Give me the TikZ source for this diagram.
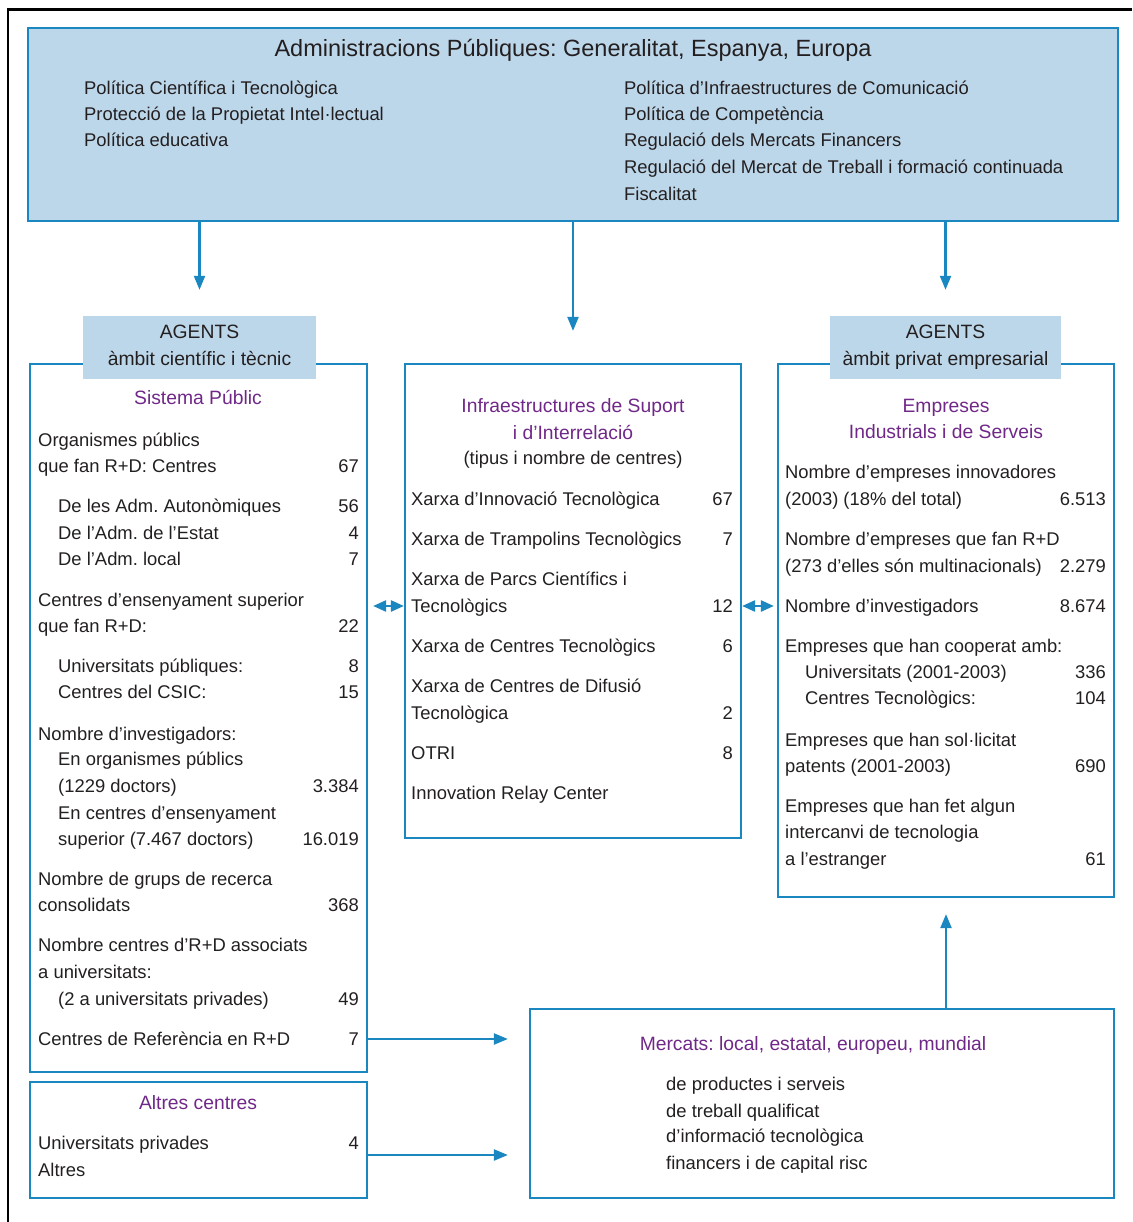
\documentclass[tikz,border=0pt]{standalone}
\usepackage{fontspec}
\setmainfont{Liberation Sans}
\usetikzlibrary{arrows.meta, positioning, calc}
\definecolor{linkblue}{RGB}{27,135,192}
\definecolor{paleblue}{RGB}{189,215,234}
\definecolor{headpurple}{RGB}{112,40,136}
\definecolor{inkgray}{RGB}{35,31,32}
\frenchspacing

\begin{document}
\begin{tikzpicture}[x=1pt, y=-1pt,
    panel/.style={rectangle, draw=linkblue, line width=2.2pt, inner sep=0pt},
    tag/.style={rectangle, fill=paleblue, inner sep=0pt},
    item/.style={anchor=base west, inner sep=0pt, text=inkgray,
                 font=\fontsize{18.4pt}{22pt}\selectfont},
    count/.style={item, anchor=base east},
    head/.style={anchor=base, inner sep=0pt, text=headpurple,
                 font=\fontsize{19.3pt}{23pt}\selectfont},
    arrow/.style={-{Triangle[length=14pt, width=11pt]}, line width=2.2pt, draw=linkblue},
    twoway/.style={{Triangle[length=13pt, width=11pt]}-{Triangle[length=13pt, width=11pt]},
                   line width=2.4pt, draw=linkblue},
]
\useasboundingbox (0,0) rectangle (1132,1222);
% marc
\draw[line width=2.7pt] (8,1222) -- (8,9.5) -- (1132,9.5);

% caixes
\node[panel, fill=paleblue, minimum width=1090pt, minimum height=193pt] (admin) at (573,124.5) {};
\node[panel, minimum width=337pt, minimum height=708pt] (pub) at (198.5,718) {};
\node[panel, minimum width=336pt, minimum height=474pt] (infra) at (573,601) {};
\node[panel, minimum width=336pt, minimum height=533pt] (emp) at (946,630.5) {};
\node[panel, minimum width=337pt, minimum height=116pt] (altres) at (198.5,1140) {};
\node[panel, minimum width=584pt, minimum height=189pt] (merc) at (822,1103.5) {};
\node[tag, minimum width=233pt, minimum height=63pt] (agL) at (199.5,347.5) {};
\node[tag, minimum width=231pt, minimum height=63pt] (agR) at (945.5,347.5) {};

% fletxes
\draw[arrow, shorten >=26pt] (admin.south -| agL.north) -- (agL.north);
\draw[arrow, shorten >=32pt] (admin.south -| infra.north) -- (infra.north);
\draw[arrow, shorten >=26pt] (admin.south -| agR.north) -- (agR.north);
\coordinate (linkA) at (0,606);
\coordinate (mktA) at (0,1039);
\coordinate (mktB) at (0,1155);
\draw[twoway, shorten <=5pt] (pub.east |- linkA) -- (infra.west |- linkA);
\draw[twoway, shorten >=3pt] (infra.east |- linkA) -- (emp.west |- linkA);
\draw[arrow, shorten >=21pt] (pub.east |- mktA) -- (merc.west |- mktA);
\draw[arrow, shorten >=21pt] (altres.east |- mktB) -- (merc.west |- mktB);
\draw[arrow, shorten >=16pt] (merc.north -| emp.south) -- (emp.south);

% administracions
\node[head, text=inkgray, font=\fontsize{23.5pt}{28pt}\selectfont] (adminT) at (573,57)
  {Administracions Públiques: Generalitat, Espanya, Europa};
\foreach \y/\t in {95/Política Científica i Tecnològica,
                   121/Protecció de la Propietat Intel·lectual,
                   147/Política educativa}
  \node[item] at (84,\y) {\t};
\foreach \y/\t in {95/Política d’Infraestructures de Comunicació,
                   121/Política de Competència,
                   147/Regulació dels Mercats Financers,
                   174/Regulació del Mercat de Treball i formació continuada,
                   201/Fiscalitat}
  \node[item] at (624,\y) {\t};

% agents
\node[head, text=inkgray] (agLa) at (199.5,338) {AGENTS};
\node[head, text=inkgray] (agLb) at (199.5,365) {àmbit científic i tècnic};
\node[head, text=inkgray] (agRa) at (945.5,338) {AGENTS};
\node[head, text=inkgray] (agRb) at (945.5,365) {àmbit privat empresarial};

% sistema public
\node[head] (pubT) at (198,404) {Sistema Públic};
\foreach \y/\x/\t in {446/38/Organismes públics,
                      472/38/que fan R+D: Centres,
                      512/58/De les Adm. Autonòmiques,
                      539/58/De l’Adm. de l’Estat,
                      565/58/De l’Adm. local,
                      606/38/Centres d’ensenyament superior,
                      632/38/que fan R+D:,
                      672/58/Universitats públiques:,
                      698/58/Centres del CSIC:,
                      740/38/Nombre d’investigadors:,
                      765/58/En organismes públics,
                      792/58/(1229 doctors),
                      819/58/En centres d’ensenyament,
                      845/58/superior (7.467 doctors),
                      885/38/Nombre de grups de recerca,
                      911/38/consolidats,
                      951/38/Nombre centres d’R+D associats,
                      978/38/a universitats:,
                      1005/58/(2 a universitats privades),
                      1045/38/Centres de Referència en R+D}
  \node[item] at (\x,\y) {\t};
\foreach \y/\n in {472/67, 512/56, 539/4, 565/7, 632/22, 672/8, 698/15,
                   792/3.384, 845/16.019, 911/368, 1005/49, 1045/7}
  \node[count] at (359,\y) {\n};

% infraestructures
\node[head] (infraT) at (573,412) {Infraestructures de Suport};
\node[head] (infraT2) at (573,439) {i d’Interrelació};
\node[head, text=inkgray, font=\fontsize{18.4pt}{22pt}\selectfont] (infraT3) at (573,464)
  {(tipus i nombre de centres)};
\foreach \y/\t in {505/Xarxa d’Innovació Tecnològica,
                   545/Xarxa de Trampolins Tecnològics,
                   585/Xarxa de Parcs Científics i,
                   612/Tecnològics,
                   652/Xarxa de Centres Tecnològics,
                   692/Xarxa de Centres de Difusió,
                   719/Tecnològica,
                   759/OTRI,
                   799/Innovation Relay Center}
  \node[item] at (411,\y) {\t};
\foreach \y/\n in {505/67, 545/7, 612/12, 652/6, 719/2, 759/8}
  \node[count] at (733,\y) {\n};

% empreses
\node[head] (empT) at (946,412) {Empreses};
\node[head] (empT2) at (946,438) {Industrials i de Serveis};
\foreach \y/\x/\t in {478/785/Nombre d’empreses innovadores,
                      505/785/(2003) (18\% del total),
                      545/785/Nombre d’empreses que fan R+D,
                      572/785/(273 d’elles són multinacionals),
                      612/785/Nombre d’investigadors,
                      652/785/Empreses que han cooperat amb:,
                      678/805/Universitats (2001-2003),
                      704/805/Centres Tecnològics:,
                      746/785/Empreses que han sol·licitat,
                      772/785/patents (2001-2003),
                      812/785/Empreses que han fet algun,
                      838/785/intercanvi de tecnologia,
                      865/785/a l’estranger}
  \node[item] at (\x,\y) {\t};
\foreach \y/\n in {505/6.513, 572/2.279, 612/8.674, 678/336, 704/104, 772/690, 865/61}
  \node[count] at (1106,\y) {\n};

% altres centres
\node[head] (altresT) at (198,1109) {Altres centres};
\node[item] at (38,1149) {Universitats privades};
\node[count] at (359,1149) {4};
\node[item] at (38,1176) {Altres};

% mercats
\node[head] (mercT) at (813,1050) {Mercats: local, estatal, europeu, mundial};
\foreach \y/\t in {1090/de productes i serveis,
                   1117/de treball qualificat,
                   1142/d’informació tecnològica,
                   1169/financers i de capital risc}
  \node[item] at (666,\y) {\t};
\end{tikzpicture}
\end{document}
